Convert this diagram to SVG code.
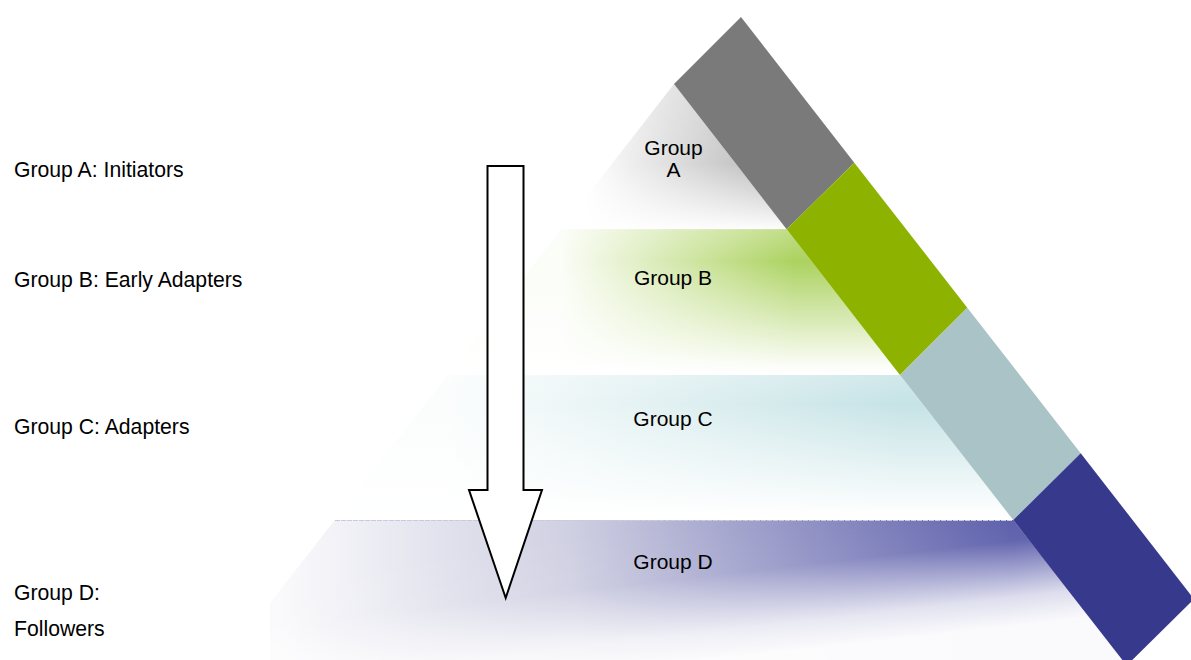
<svg xmlns="http://www.w3.org/2000/svg" width="1191" height="660" viewBox="0 0 1191 660">
  <style>
    .lbl { font-family: "Liberation Sans", Arial, sans-serif; font-size: 21px; fill: #000; }
    .cap { font-size: 21.2px; }
    .mid { text-anchor: middle; }
    .arrow { fill: #fff; stroke: #000; stroke-width: 2; stroke-linejoin: miter; }
  </style>
  <defs>
    <!-- horizontal tint of each tier: white on the outer edge, full colour next to the band -->
    <linearGradient id="tintA" gradientUnits="userSpaceOnUse" x1="585" y1="0" x2="785" y2="0">
      <stop offset="0" stop-color="#ffffff"/>
      <stop offset="1" stop-color="#b4b4b4"/>
    </linearGradient>
    <linearGradient id="tintB" gradientUnits="userSpaceOnUse" x1="561" y1="0" x2="795" y2="0">
      <stop offset="0" stop-color="#fbfdf7"/>
      <stop offset="1" stop-color="#acd260"/>
    </linearGradient>
    <linearGradient id="tintC" gradientUnits="userSpaceOnUse" x1="447" y1="0" x2="900" y2="0">
      <stop offset="0" stop-color="#fbfdfd"/>
      <stop offset="1" stop-color="#c6e3e6"/>
    </linearGradient>
    <linearGradient id="tintD" gradientUnits="userSpaceOnUse" x1="280" y1="0" x2="1013" y2="0">
      <stop offset="0" stop-color="#fafafc"/>
      <stop offset="0.4" stop-color="#cfcfe2"/>
      <stop offset="1" stop-color="#5658a8"/>
    </linearGradient>

    <!-- white wash that fades each tier out towards its lower edge -->
    <linearGradient id="washA" gradientUnits="userSpaceOnUse" x1="0" y1="84" x2="0" y2="229">
      <stop offset="0" stop-color="#fff" stop-opacity="0.2"/>
      <stop offset="0.55" stop-color="#fff" stop-opacity="0"/>
      <stop offset="1" stop-color="#fff" stop-opacity="0.97"/>
    </linearGradient>
    <linearGradient id="washB" gradientUnits="userSpaceOnUse" x1="0" y1="229" x2="0" y2="375">
      <stop offset="0" stop-color="#fff" stop-opacity="0.25"/>
      <stop offset="0.22" stop-color="#fff" stop-opacity="0"/>
      <stop offset="0.95" stop-color="#fff" stop-opacity="0.97"/>
      <stop offset="1" stop-color="#fff" stop-opacity="1"/>
    </linearGradient>
    <linearGradient id="washC" gradientUnits="userSpaceOnUse" x1="0" y1="375" x2="0" y2="520">
      <stop offset="0" stop-color="#fff" stop-opacity="0.2"/>
      <stop offset="0.2" stop-color="#fff" stop-opacity="0"/>
      <stop offset="0.95" stop-color="#fff" stop-opacity="0.97"/>
      <stop offset="1" stop-color="#fff" stop-opacity="1"/>
    </linearGradient>
    <linearGradient id="washD" gradientUnits="userSpaceOnUse" x1="680" y1="522" x2="696" y2="662">
      <stop offset="0" stop-color="#fff" stop-opacity="0"/>
      <stop offset="0.4" stop-color="#fff" stop-opacity="0.08"/>
      <stop offset="0.8" stop-color="#fff" stop-opacity="0.8"/>
      <stop offset="1" stop-color="#fff" stop-opacity="0.97"/>
    </linearGradient>
  </defs>

  <rect width="1191" height="660" fill="#fff"/>

  <!-- pyramid tiers -->
  <g id="tier-a">
    <polygon points="674,84 561,229.3 786.7,229.3" fill="url(#tintA)"/>
    <polygon points="674,84 561,229.3 786.7,229.3" fill="url(#washA)"/>
    <text class="lbl mid" x="673.5" y="154.5">Group</text>
    <text class="lbl mid" x="673.5" y="177">A</text>
  </g>
  <g id="tier-b">
    <polygon points="561,229.3 786.7,229.3 900,375 447.6,375" fill="url(#tintB)"/>
    <polygon points="561,229.3 786.7,229.3 900,375 447.6,375" fill="url(#washB)"/>
    <text class="lbl mid" x="673" y="285">Group B</text>
  </g>
  <g id="tier-c">
    <polygon points="447.6,375 900,375 1013.3,520 334.8,520" fill="url(#tintC)"/>
    <polygon points="447.6,375 900,375 1013.3,520 334.8,520" fill="url(#washC)"/>
    <text class="lbl mid" x="673" y="426">Group C</text>
  </g>
  <g id="tier-d">
    <polygon points="334.8,520 1013.3,520 1123.5,660 270,660 270,603" fill="url(#tintD)"/>
    <polygon points="334.8,520 1013.3,520 1123.5,660 270,660 270,603" fill="url(#washD)"/>
    <line x1="335" y1="520.5" x2="1013" y2="520.5" stroke="#c9c9e2" stroke-width="1" stroke-dasharray="5 1"/>
    <text class="lbl mid" x="673" y="569">Group D</text>
  </g>

  <!-- diagonal colour band along the right flank -->
  <g id="band">
    <polygon id="band-a" points="674,84 741,17 854.3,162.7 786.7,229.3" fill="#7a7a7a"/>
    <polygon id="band-b" points="786.7,229.3 854.3,162.7 967.3,307.7 900,375" fill="#8db300"/>
    <polygon id="band-c" points="900,375 967.3,307.7 1080.7,453.3 1013.3,520" fill="#a9c3c6"/>
    <polygon id="band-d" points="1013.3,520 1080.7,453.3 1194,599 1126.7,665.5" fill="#36398c"/>
  </g>

  <!-- side captions -->
  <g id="caption-a"><text class="lbl cap" x="14" y="177">Group A: Initiators</text></g>
  <g id="caption-b"><text class="lbl cap" x="14" y="287">Group B: Early Adapters</text></g>
  <g id="caption-c"><text class="lbl cap" x="14" y="434">Group C: Adapters</text></g>
  <g id="caption-d">
    <text class="lbl cap" x="14" y="600">Group D:</text>
    <text class="lbl cap" x="14" y="636">Followers</text>
  </g>

  <!-- downward flow arrow -->
  <g id="connectors">
    <polygon class="arrow" points="487.5,166 523.5,166 523.5,490 542,490 505.7,598 469,490 487.5,490"/>
  </g>
</svg>
